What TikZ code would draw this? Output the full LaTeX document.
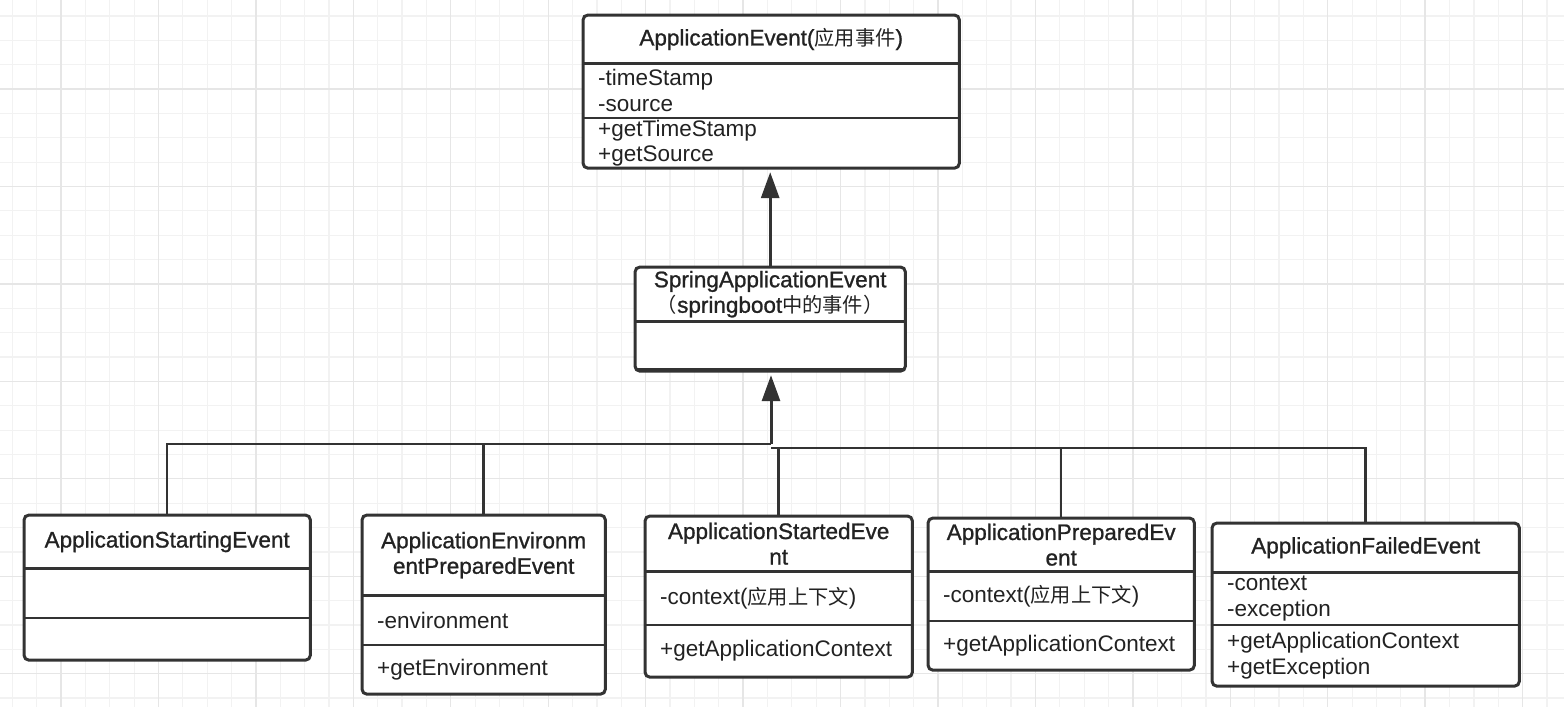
\documentclass[tikz,border=0pt]{standalone}
\usepackage{fontspec}
\setmainfont{Liberation Sans}
\newfontfamily\cjk{Noto Sans CJK SC}[Scale=0.9]
\newfontfamily\headlatin{Liberation Sans}[FakeBold=1]
\usetikzlibrary{positioning,arrows.meta,backgrounds}

\definecolor{ink}{HTML}{333333}
\definecolor{txt}{HTML}{222222}
\definecolor{gridminor}{HTML}{F2F2F2}
\definecolor{gridmajor}{HTML}{E6E6E6}

\newcommand{\bodyfont}{\fontsize{22.5}{25.5}\selectfont\hyphenpenalty=10000\exhyphenpenalty=10000}
\newcommand{\headfont}{\headlatin\fontsize{22.5}{25.5}\selectfont}

\tikzset{
  head/.style={inner sep=0pt, align=center, font=\headfont, text=txt},
  body/.style={inner xsep=15pt, inner ysep=0pt, align=left, font=\bodyfont, text=txt},
  blank/.style={inner sep=0pt},
  frame/.style={draw=ink, line width=3pt, rounded corners=5pt, fill=white},
  divider/.style={draw=ink, line width=2.5pt},
  link/.style={draw=ink, line width=2.5pt},
  gen/.style={draw=ink, line width=3pt, -{Triangle[width=18pt,length=26pt]}, shorten >=4pt},
}

\begin{document}
\begin{tikzpicture}[x=1pt,y=1pt]
\useasboundingbox (0,-707) rectangle (1564,0);

% ApplicationEvent
\node[head, anchor=north west, minimum width=376pt, minimum height=48pt] (eventT) at (583,-15) {ApplicationEvent({\cjk 应用事件})};
\node[body, below=0pt of eventT, minimum width=376pt, minimum height=54pt, text width=346pt] (eventA) {-timeStamp\\-source};
\node[body, below=0pt of eventA, minimum width=376pt, minimum height=50pt, text width=346pt] (eventO) {+getTimeStamp\\+getSource};

% SpringApplicationEvent
\node[head, anchor=north west, minimum width=270pt, minimum height=54pt] (springT) at (635,-267) {SpringApplicationEvent\\{\cjk （}springboot{\cjk 中的事件）}};
\node[blank, below=0pt of springT, minimum width=270pt, minimum height=47pt] (springA) {};
\node[blank, below=0pt of springA, minimum width=270pt, minimum height=2pt] (springO) {};

% ApplicationStartingEvent
\node[head, anchor=north west, minimum width=286pt, minimum height=53pt] (startingT) at (24,-515) {ApplicationStartingEvent};
\node[blank, below=0pt of startingT, minimum width=286pt, minimum height=49pt] (startingA) {};
\node[blank, below=0pt of startingA, minimum width=286pt, minimum height=42pt] (startingO) {};

% ApplicationEnvironmentPreparedEvent
\node[head, anchor=north west, minimum width=243pt, minimum height=80pt] (environmentT) at (362,-515) {ApplicationEnvironm\\entPreparedEvent};
\node[body, below=0pt of environmentT, minimum width=243pt, minimum height=49pt, text width=213pt] (environmentA) {-environment};
\node[body, below=0pt of environmentA, minimum width=243pt, minimum height=49pt, text width=213pt] (environmentO) {+getEnvironment};

% ApplicationStartedEvent
\node[head, anchor=north west, minimum width=267pt, minimum height=55pt] (startedT) at (645,-516) {ApplicationStartedEve\\nt};
\node[body, below=0pt of startedT, minimum width=267pt, minimum height=53pt, text width=237pt] (startedA) {-context({\cjk 应用上下文})};
\node[body, below=0pt of startedA, minimum width=267pt, minimum height=52pt, text width=237pt] (startedO) {+getApplicationContext};

% ApplicationPreparedEvent
\node[head, anchor=north west, minimum width=266pt, minimum height=53pt] (preparedT) at (928,-518) {ApplicationPreparedEv\\ent};
\node[body, below=0pt of preparedT, minimum width=266pt, minimum height=49pt, text width=236pt] (preparedA) {-context({\cjk 应用上下文})};
\node[body, below=0pt of preparedA, minimum width=266pt, minimum height=49pt, text width=236pt] (preparedO) {+getApplicationContext};

% ApplicationFailedEvent
\node[head, anchor=north west, minimum width=307pt, minimum height=49pt] (failedT) at (1212,-523) {ApplicationFailedEvent};
\node[body, below=0pt of failedT, minimum width=307pt, minimum height=52pt, text width=277pt] (failedA) {-context\\-exception};
\node[body, below=0pt of failedA, minimum width=307pt, minimum height=61pt, text width=277pt] (failedO) {+getApplicationContext\\+getException};

% grid and class frames
\begin{scope}[on background layer]
  \fill[white] (0,-707) rectangle (1564,0);
  \begin{scope}[shift={(12.3,-16)}]
    \draw[gridminor, line width=1.2pt, step=24.36] (-12.3,-691) grid (1551.7,16);
  \end{scope}
  \begin{scope}[shift={(61,-89)}]
    \draw[gridmajor, line width=1.4pt, step=97.44] (-61,-618) grid (1503,89);
  \end{scope}
  \foreach \cls in {event,spring,starting,environment,started,prepared,failed}
    \draw[frame] (\cls T.north west) rectangle (\cls O.south east);
\end{scope}
\foreach \cls in {event,spring,starting,environment,started,prepared,failed}
  \draw[divider] (\cls A.north west) -- (\cls A.north east) (\cls O.north west) -- (\cls O.north east);

% inheritance
\coordinate (hub) at (771,-444);
\coordinate (hubR) at (771,-448);
\draw[link] (startingT.north) |- (hub);
\draw[link] (environmentT.north) |- (hub);
\draw[link] (startedT.north) |- (hubR);
\draw[link] (preparedT.north) |- (hubR);
\draw[link] (failedT.north) |- (hubR);
\draw[gen] (hub) -- (hub |- springO.south);
\draw[gen] (springT.north) -- (springT.north |- eventO.south);
\end{tikzpicture}
\end{document}
